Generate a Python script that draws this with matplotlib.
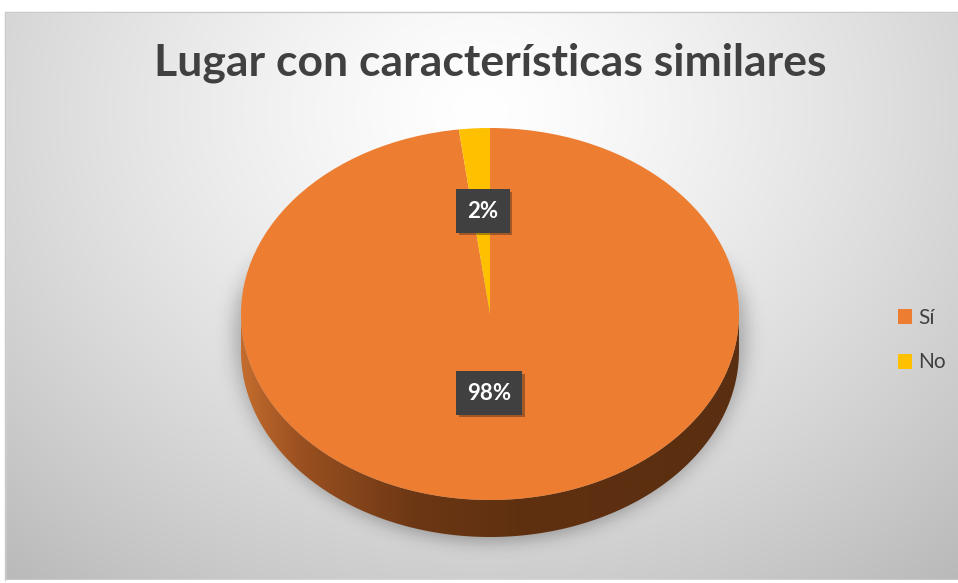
import numpy as np
import matplotlib
matplotlib.use('Agg')
import matplotlib.pyplot as plt
import matplotlib.patheffects as pe
from matplotlib.patches import Polygon, Rectangle

labels = ['Sí', 'No']
values = [98, 2]
colors = ['#ED7D31', '#FFC000']
title = 'Lugar con características similares'

W, H = 958, 583
fig = plt.figure(figsize=(W / 100, H / 100), dpi=100)

# background axes in pixel coords
bg = fig.add_axes([0, 0, 1, 1])
bg.set_xlim(0, W)
bg.set_ylim(H, 0)
bg.axis('off')

yy, xx = np.mgrid[0:H, 0:W]
d = np.sqrt(((xx - 480) / 620.0) ** 2 + ((yy - 110) / 520.0) ** 2)
g = np.clip(1.0 - 0.22 * d ** 1.3, 0, 1)
img = np.dstack([g, g, g])
bg.imshow(img, extent=(0, W, H, 0), zorder=0, aspect='auto')
# outside of chart area is white
bg.add_patch(Rectangle((0, 0), W, 12, color='white', zorder=1))
bg.add_patch(Rectangle((0, 0), 5, H, color='white', zorder=1))
bg.add_patch(Rectangle((0, 580), W, 3, color='white', zorder=1))
bg.plot([5, 5, W], [580, 12, 12], color='#c8c8c8', lw=1, zorder=2)

# soft shadow under the pie
r = np.sqrt(((xx - 490) / 262.0) ** 2 + ((yy - 335) / 212.0) ** 2)
sh = 0.22 * np.exp(-np.clip(r - 0.93, 0, None) ** 2 / (2 * 0.045 ** 2))
sh[yy < 300] *= np.clip((yy[yy < 300] - 240) / 60.0, 0, 1)
shadow = np.zeros((H, W, 4))
shadow[..., 3] = sh
bg.imshow(shadow, extent=(0, W, H, 0), zorder=3, aspect='auto')

# pie axes: unit circle mapped to the ellipse of the top face
x0, x1, y0, y1 = 241, 739, 128, 500
ry = (y1 - y0) / 2
depth = 37 / ry
pax = fig.add_axes([x0 / W, (H - y1 - 0.05 * ry - depth * ry) / H, (x1 - x0) / W,
                    (y1 - y0 + depth * ry + 0.05 * ry) / H])

t = np.linspace(np.pi, 2 * np.pi, 200)
side = np.concatenate([np.column_stack([np.cos(t), np.sin(t)]),
                       np.column_stack([np.cos(t[::-1]), np.sin(t[::-1]) - depth])])
side_patch = Polygon(side, closed=True, facecolor='none', edgecolor='none')
pax.add_patch(side_patch)
gx = np.linspace(0, 1, 300)
stops = [0.0, 0.12, 0.35, 0.55, 1.0]
rs = [0xc4, 0x9a, 0x6c, 0x60, 0x5a]
gs = [0x6c, 0x50, 0x37, 0x31, 0x2e]
bs = [0x2e, 0x20, 0x14, 0x10, 0x10]
grad = np.dstack([np.interp(gx, stops, rs), np.interp(gx, stops, gs),
                  np.interp(gx, stops, bs)])[0] / 255.0
grad = np.repeat(grad[np.newaxis, :, :], 10, axis=0)
im = pax.imshow(grad, extent=(-1, 1, -1 - depth, 0), aspect='auto', zorder=1)
im.set_clip_path(side_patch)

wedges, _ = pax.pie(values, colors=colors, startangle=90, counterclock=False,
                    wedgeprops=dict(linewidth=0))
for w in wedges:
    w.set_zorder(2)
    w.set_clip_on(False)
pax.set_aspect('auto')
pax.set_xlim(-1, 1)
pax.set_ylim(-1 - depth - 0.05, 1)
pax.axis('off')

# overlay axes for texts
top = fig.add_axes([0, 0, 1, 1])
top.set_xlim(0, W)
top.set_ylim(H, 0)
top.axis('off')

label_pos = [(489, 393), (483, 211)]
for (lx, ly), v in zip(label_pos, values):
    txt = top.text(lx, ly, f'{v}%', fontsize=16, fontweight='bold', color='white',
                   ha='center', va='center', family='Lato', zorder=10,
                   bbox=dict(boxstyle='square,pad=0.5', facecolor='#404040',
                             edgecolor='none'))
    txt.get_bbox_patch().set_path_effects(
        [pe.SimplePatchShadow(offset=(2, -2), alpha=0.35), pe.Normal()])

top.text(490, 63, title, fontsize=32, fontweight='bold', color='#404040',
         ha='center', va='center', family='Lato', zorder=10)

leg = fig.legend(wedges, labels, loc='center left',
                 bbox_to_anchor=(879 / W, 1 - 340 / H), frameon=False,
                 labelcolor='#404040', handlelength=0.7,
                 handleheight=0.7, handletextpad=0.3, labelspacing=1.2,
                 prop=dict(family='Lato', size=15))

fig.savefig('out.png', dpi=100)
